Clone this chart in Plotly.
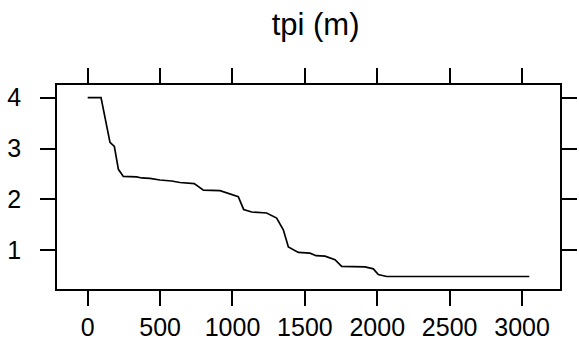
import plotly.graph_objects as go

# data
dist = [0, 92, 154, 184, 212, 246, 338, 373, 430, 499, 580, 637, 736, 799, 914,
        983, 1040, 1077, 1133, 1236, 1271, 1305, 1351, 1386, 1455, 1535, 1577,
        1639, 1708, 1754, 1915, 1973, 2007, 2065, 3050]
tpi = [4.00, 4.00, 3.12, 3.04, 2.59, 2.45, 2.44, 2.42, 2.41, 2.38, 2.36, 2.33,
       2.31, 2.18, 2.17, 2.10, 2.05, 1.80, 1.75, 1.73, 1.68, 1.63, 1.40, 1.06,
       0.955, 0.94, 0.89, 0.88, 0.81, 0.68, 0.67, 0.63, 0.52, 0.48, 0.48]
x_ticks = [0, 500, 1000, 1500, 2000, 2500, 3000]
y_ticks = [1, 2, 3, 4]
title_text = "tpi (m)"

FONT = "Liberation Sans, Arial, sans-serif"

fig = go.Figure(go.Scatter(x=dist, y=tpi, mode="lines",
                           line=dict(color="#000000", width=1.7),
                           hoverinfo="skip"))

axis_common = dict(showline=True, linecolor="black", linewidth=1.8,
                   mirror="ticks", ticks="outside", ticklen=15, tickwidth=1.8,
                   tickcolor="black", showgrid=False, zeroline=False,
                   automargin=False,
                   tickfont=dict(family=FONT, size=25, color="black"))

fig.update_xaxes(range=[-212, 3262], tickvals=x_ticks,
                 ticktext=[str(v) for v in x_ticks], ticklabelstandoff=0,
                 **axis_common)
fig.update_yaxes(range=[0.234, 4.25], tickvals=y_ticks,
                 ticktext=[str(v) for v in y_ticks], ticklabelstandoff=14,
                 **axis_common)

fig.update_layout(
    width=579, height=340,
    margin=dict(l=57, r=19, t=85, b=51, autoexpand=False),
    paper_bgcolor="white", plot_bgcolor="white",
    showlegend=False,
    title=dict(text=title_text, x=0.545, xanchor="center",
               y=1 - 24 / 340, yanchor="middle", automargin=False,
               font=dict(family=FONT, size=31, color="black")),
)

fig.write_html(
    "out.html",
    config={"displayModeBar": False},
    post_script="document.body.style.margin='0';"
                "document.body.style.overflow='hidden';",
)
